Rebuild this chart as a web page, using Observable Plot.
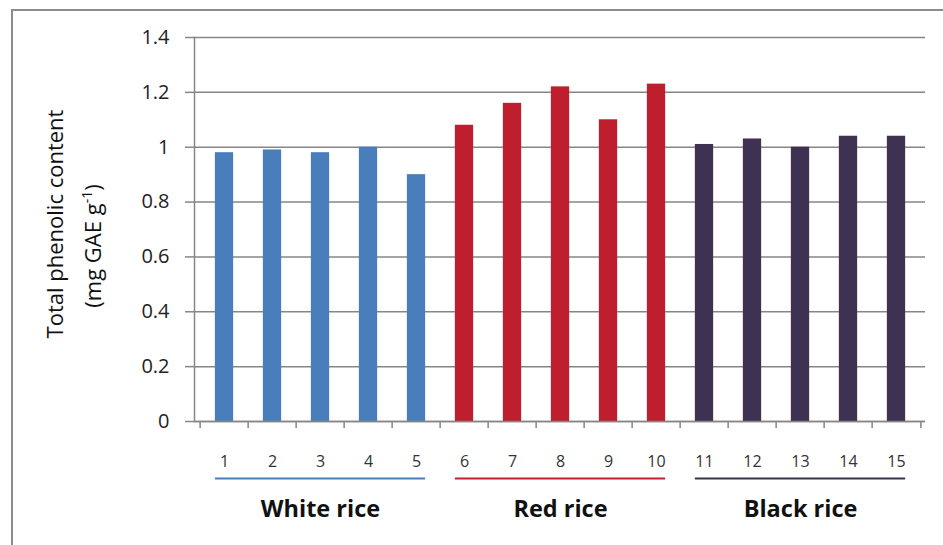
<!DOCTYPE html>
<html><head><meta charset="utf-8">
<script src="https://cdn.jsdelivr.net/npm/d3@7"></script>
<script src="https://cdn.jsdelivr.net/npm/@observablehq/plot@0.6"></script>
<style>
html,body{margin:0;padding:0;background:#fff;overflow:hidden;}
#wrap{position:relative;width:943px;height:545px;overflow:hidden;}
#frame{position:absolute;left:11px;top:9px;width:1000px;height:600px;border:2px solid #8c8c8c;}
#chart{position:absolute;left:0;top:0;}
</style></head><body>
<div id="wrap"><div id="frame"></div><div id="chart"></div></div>
<script>
const categories = ["1","2","3","4","5","6","7","8","9","10","11","12","13","14","15"];
const values = [0.98,0.99,0.98,1.00,0.90,1.08,1.16,1.22,1.10,1.23,1.01,1.03,1.00,1.04,1.04];
const groupOf = ["White rice","White rice","White rice","White rice","White rice",
                 "Red rice","Red rice","Red rice","Red rice","Red rice",
                 "Black rice","Black rice","Black rice","Black rice","Black rice"];
const groupNames = ["White rice","Red rice","Black rice"];
const groupFirst = ["1","6","11"];
const groupLast = ["5","10","15"];
const groupMid = ["3","8","13"];
const groupColors = ["#4a7ebb","#be1e2d","#3f3152"];
const yTicks = [0,0.2,0.4,0.6,0.8,1.0,1.2,1.4];
const yTitle1 = "Total phenolic content";
const yTitle2 = "(mg GAE g";
const yTitleSup = "-1";

const data = categories.map((c,i)=>({cat:c, value:values[i], group:groupOf[i]}));
const groups = groupNames.map((g,i)=>({g, first:groupFirst[i], last:groupLast[i], mid:groupMid[i]}));

const W = 943, H = 545, mL = 194, mR = 18, mT = 37, mB = 124;
const step = (W - mL - mR) / categories.length;
const inset = step * 0.305;
const grid = "#868686";

const plot = Plot.plot({
  width: W, height: H,
  marginLeft: mL, marginRight: mR, marginTop: mT, marginBottom: mB,
  style: {fontFamily: "'Open Sans', sans-serif", background: "transparent", overflow: "visible"},
  x: {domain: categories, padding: 0, label: null},
  y: {domain: [0, 1.4], label: null},
  color: {domain: groupNames, range: groupColors},
  marks: [
    Plot.gridY(yTicks, {stroke: grid, strokeOpacity: 1, strokeWidth: 1.5}),
    Plot.axisY(yTicks, {tickSize: 9, tickPadding: 16, fontSize: 20, stroke: grid, strokeWidth: 1.5,
      color: "#222", tickFormat: d => d3.format("~g")(d), label: null}),
    Plot.frame({anchor: "left", stroke: grid, strokeWidth: 1.5}),
    Plot.barY(data, {x: "cat", y: "value", fill: "group", insetLeft: inset, insetRight: inset}),
    Plot.ruleY([0], {stroke: grid, strokeWidth: 1.5}),
    Plot.axisX(categories, {tickSize: 7, tickFormat: () => "", dx: -step/2, stroke: grid, strokeWidth: 1.5, label: null}),
    Plot.axisX([categories[categories.length-1]], {tickSize: 7, tickFormat: () => "", dx: step/2, stroke: grid, strokeWidth: 1.5, label: null}),
    Plot.axisX(categories, {tickSize: 0, tickPadding: 34, fontSize: 16, color: "#333", label: null}),
    Plot.ruleY(groups, {x1: "first", x2: "last", y: 0, dy: 57, stroke: "g", strokeWidth: 2, insetLeft: inset, insetRight: inset}),
    Plot.text(groups, {x: "mid", y: 0, dy: 88, text: "g", fontSize: 23.5, fontWeight: "bold", fill: "#111"})
  ]
});
document.getElementById("chart").appendChild(plot);

const svg = d3.select(plot);
const cy = (mT + (H - mB)) / 2;
svg.append("text")
  .attr("transform", `translate(63,${cy - 5}) rotate(-90)`)
  .attr("text-anchor", "middle")
  .attr("font-family", "'Open Sans', sans-serif")
  .attr("font-size", 22)
  .attr("fill", "#111")
  .text(yTitle1);
const t2 = svg.append("text")
  .attr("transform", `translate(101,${cy + 17}) rotate(-90)`)
  .attr("text-anchor", "middle")
  .attr("font-family", "'Open Sans', sans-serif")
  .attr("font-size", 22)
  .attr("fill", "#111");
t2.append("tspan").text(yTitle2);
t2.append("tspan").attr("font-size", 14).attr("dy", -9).text(yTitleSup);
t2.append("tspan").attr("dy", 9).text(")");
</script>
</body></html>
